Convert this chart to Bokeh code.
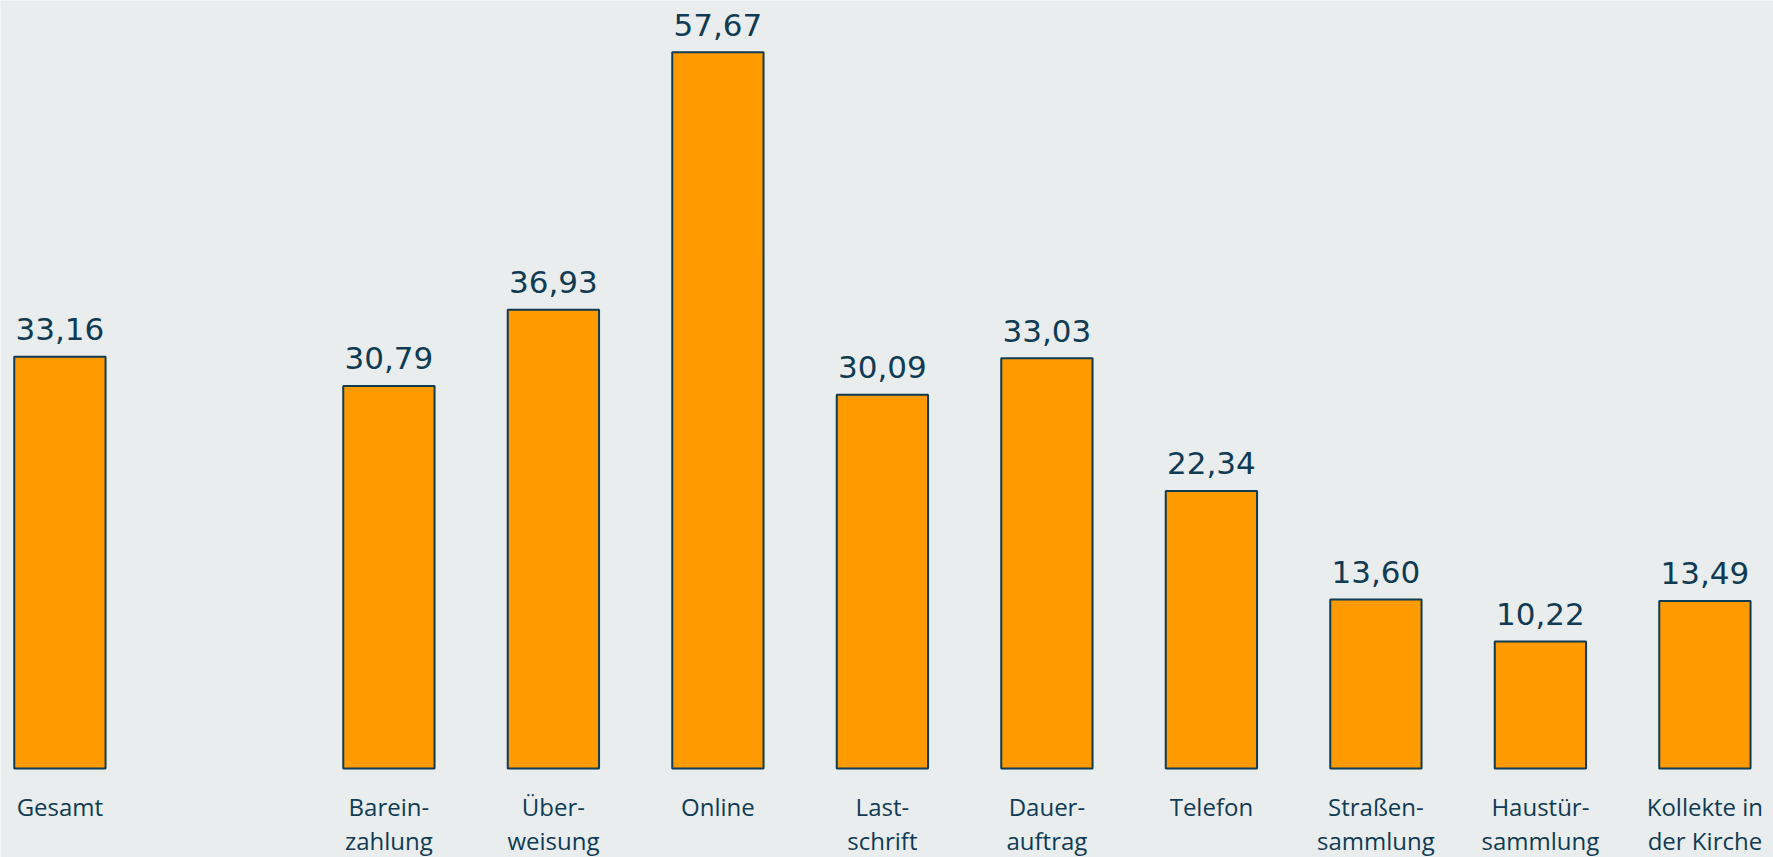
from bokeh.plotting import figure
from bokeh.models import Range1d, ColumnDataSource
from bokeh.core.properties import value
from bokeh.embed import file_html
from bokeh.resources import INLINE

# ---- data ----
categories = ["Gesamt", "Barein-\nzahlung", "Über-\nweisung", "Online", "Last-\nschrift",
              "Dauer-\nauftrag", "Telefon", "Straßen-\nsammlung", "Haustür-\nsammlung",
              "Kollekte in\nder Kirche"]
values = [33.16, 30.79, 36.93, 57.67, 30.09, 33.03, 22.34, 13.60, 10.22, 13.49]

# ---- style ----
BG = "#E9EDEE"
ORANGE = "#FF9A00"
NAVY = "#0F3B54"
W, H = 1773, 857
SX = 164.5   # px per slot
SY = 12.42   # px per unit
x0 = -59.4 / SX
x1 = x0 + W / SX
y1 = 768 / SY
y0 = y1 - H / SY

xs = [i + (1 if i > 0 else 0) for i in range(len(categories))]
labels = [f"{v:.2f}".replace(".", ",") for v in values]
line1 = [c.split("\n")[0] for c in categories]
line2 = [c.split("\n")[1] if "\n" in c else "" for c in categories]

src = ColumnDataSource(dict(
    x=xs, top=values, lab=labels,
    lab_y=[v + 27.7 / SY for v in values],
    l1=line1, l2=line2,
    l1_y=[-38 / SY] * len(values),
    l2_y=[-72 / SY] * len(values),
))

p = figure(width=W, height=H, x_range=Range1d(x0, x1), y_range=Range1d(y0, y1),
           output_backend="svg", toolbar_location=None, min_border=0,
           background_fill_color=BG, border_fill_color=BG, outline_line_color=None)
p.axis.visible = False
p.grid.visible = False

p.vbar(x="x", top="top", bottom=0, width=0.555, source=src,
       fill_color=ORANGE, line_color=NAVY, line_width=2)

p.text(x="x", y="lab_y", text="lab", source=src, text_align="center",
       text_baseline="alphabetic", text_font=value("DejaVu Sans"),
       text_font_size="31px", text_color=NAVY)

p.text(x="x", y="l1_y", text="l1", source=src, text_align="center",
       text_baseline="alphabetic", text_font=value("Open Sans"),
       text_font_size="24px", text_color=NAVY)
p.text(x="x", y="l2_y", text="l2", source=src, text_align="center",
       text_baseline="alphabetic", text_font=value("Open Sans"),
       text_font_size="24px", text_color=NAVY)

html = file_html(p, INLINE)
html = html.replace("<body>", '<body style="background:%s">' % BG, 1)
open("out.html", "w").write(html)
